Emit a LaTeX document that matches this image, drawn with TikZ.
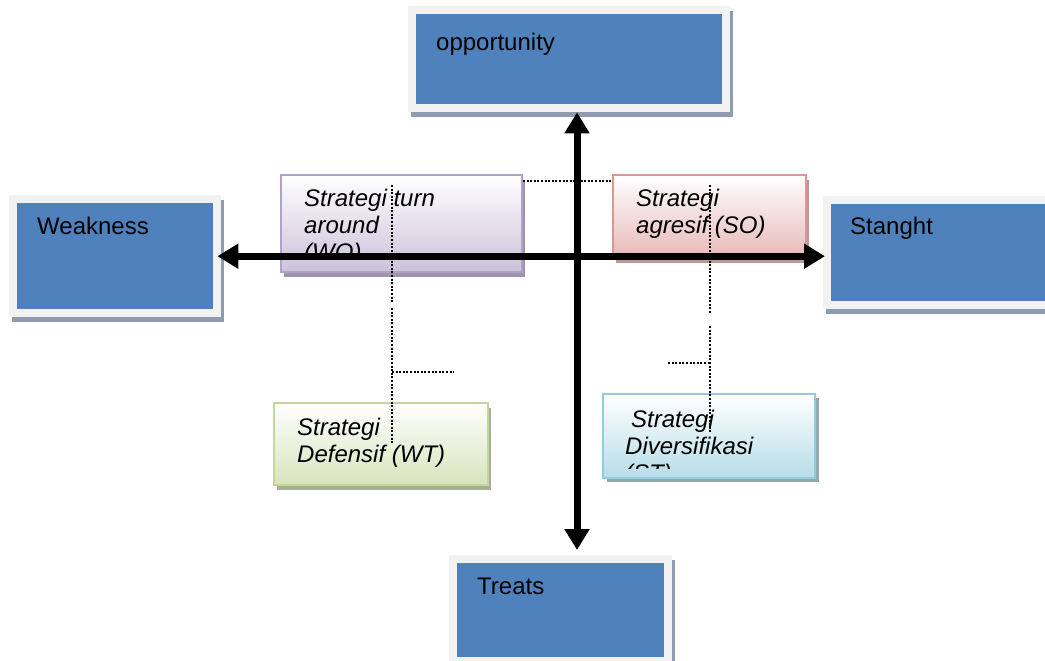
\documentclass[tikz,border=0pt]{standalone}
\usepackage{fontspec}
\setmainfont{Liberation Sans}
\usetikzlibrary{positioning, calc, shadows, arrows.meta}

\definecolor{swotblue}{HTML}{4F81BD}
\definecolor{framegrey}{HTML}{F2F2F2}
\definecolor{frameshadow}{HTML}{8F9CB0}
\definecolor{woborder}{HTML}{B3A2C7}
\definecolor{wobottom}{HTML}{CCC1DA}
\definecolor{woshadow}{HTML}{9D93AB}
\definecolor{soborder}{HTML}{D99694}
\definecolor{sobottom}{HTML}{E6B9B8}
\definecolor{soshadow}{HTML}{B99896}
\definecolor{wtborder}{HTML}{C3D69B}
\definecolor{wtbottom}{HTML}{D7E4BD}
\definecolor{wtshadow}{HTML}{A7AF96}
\definecolor{stborder}{HTML}{93CDDD}
\definecolor{stbottom}{HTML}{B7DDE8}
\definecolor{stshadow}{HTML}{8FA9B3}

\tikzstyle{swotbox} = [rectangle, anchor=north west, inner sep=0pt, fill=framegrey,
  drop shadow={shadow xshift=3pt, shadow yshift=-5pt, fill=frameshadow, opacity=1},
  path picture={\fill[swotblue] ([shift={(8pt,-8pt)}]path picture bounding box.north west) rectangle ([shift={(-8pt,8pt)}]path picture bounding box.south east);}]
\tikzstyle{stratbox} = [rectangle, anchor=north west, inner sep=0pt, line width=2pt, top color=white]
\tikzstyle{boxtext} = [inner sep=0pt, align=left, font=\fontsize{24}{27}\selectfont]
\tikzstyle{strattext} = [inner sep=0pt, align=left, font=\fontsize{24}{27}\selectfont\itshape]
\tikzstyle{axis} = [line width=7pt, {Triangle[length=21pt,width=24pt]}-{Triangle[length=21pt,width=24pt]}]
\tikzstyle{dotline} = [line width=2pt, dash pattern=on 2pt off 1.6pt]

\newcommand{\tstrut}{\rule{0pt}{19pt}}

\begin{document}
\begin{tikzpicture}[x=1pt, y=-1pt]
    \useasboundingbox (0,0) rectangle (1045,661);

    % SWOT boxes
    \node (opp) [swotbox, minimum width=322pt, minimum height=106pt] at (408,6) {};
    \node (weak) [swotbox, minimum width=212pt, minimum height=122pt] at (9,195) {};
    \node (stang) [swotbox, minimum width=230pt, minimum height=113pt] at (823,196) {};
    \node (treats) [swotbox, minimum width=223pt, minimum height=110pt] at (449,555) {};

    \node (opptxt) [boxtext, below right=25pt and 28pt of opp.north west] {\tstrut opportunity};
    \node (weaktxt) [boxtext, below right=20pt and 28pt of weak.north west] {\tstrut Weakness};
    \node (stangtxt) [boxtext, below right=19pt and 27pt of stang.north west] {\tstrut Stanght};
    \node (treatstxt) [boxtext, below right=20pt and 28pt of treats.north west] {\tstrut Treats};

    % strategy boxes
    \node (wo) [stratbox, draw=woborder, bottom color=wobottom, minimum width=241pt, minimum height=97pt,
      drop shadow={shadow xshift=3pt, shadow yshift=-5pt, fill=woshadow, opacity=1}] at (280,174) {};
    \node (so) [stratbox, draw=soborder, bottom color=sobottom, minimum width=193pt, minimum height=83pt,
      drop shadow={shadow xshift=3pt, shadow yshift=-5pt, fill=soshadow, opacity=1}] at (612,174) {};
    \node (wt) [stratbox, draw=wtborder, bottom color=wtbottom, minimum width=214pt, minimum height=82pt,
      drop shadow={shadow xshift=3pt, shadow yshift=-5pt, fill=wtshadow, opacity=1}] at (273,402) {};
    \node (st) [stratbox, draw=stborder, bottom color=stbottom, minimum width=212pt, minimum height=84pt,
      drop shadow={shadow xshift=4pt, shadow yshift=-4pt, fill=stshadow, opacity=1}] at (602,393) {};

    \begin{scope}
        \clip (wo.north west) rectangle ([yshift=14pt]wo.south east);
        \node (wotxt) [strattext, below right=13pt and 24pt of wo.north west] {\tstrut Strategi turn\\around\\(WO)};
    \end{scope}
    \node (sotxt) [strattext, below right=13pt and 24pt of so.north west] {\tstrut Strategi\\agresif (SO)};
    \node (wttxt) [strattext, below right=14pt and 24pt of wt.north west] {\tstrut Strategi\\Defensif (WT)};
    \begin{scope}
        \clip (st.north west) rectangle ([yshift=11pt]st.south east);
        \node (sttxt) [strattext, below right=15pt and 23pt of st.north west] {\tstrut\hspace*{6pt}Strategi\\Diversifikasi\\(ST)};
    \end{scope}

    % dotted lines
    \draw [dotline] ([yshift=-7pt]wo.north east) -- ([yshift=-7pt]so.north west);
    \draw [dotline] (392,185) -- (392,303);
    \draw [dotline] (392,308) -- (392,443);
    \draw [dotline] (392,372) -- (454,372);
    \draw [dotline] (710,185) -- (710,314);
    \draw [dotline] (710,326) -- (710,433);
    \draw [dotline] (668,363) -- (710,363);

    % axes
    \coordinate (vx) at (577,0);
    \draw [axis] ([xshift=-4pt]weak.east) -- ([xshift=2pt]weak.east -| stang.west);
    \draw [axis] (opp.south -| vx) -- ([yshift=5pt]treats.north -| vx);
\end{tikzpicture}
\end{document}
